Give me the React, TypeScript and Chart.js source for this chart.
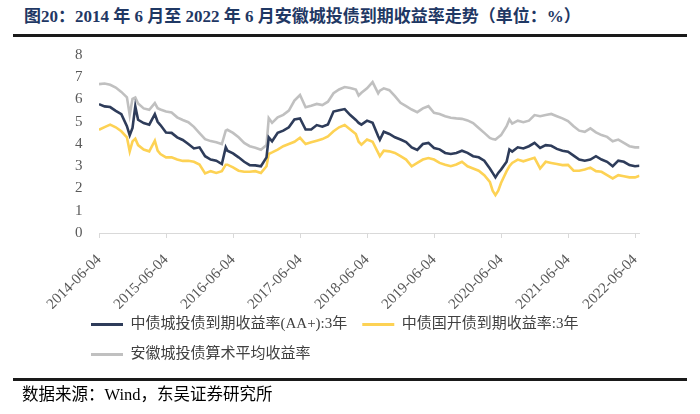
import React, { useEffect, useRef } from 'react';
import { Chart, registerables } from 'chart.js';

Chart.register(...registerables);

// months elapsed since 2014-06-04
const months = [
  0, 1, 2, 3, 4, 5, 5.5, 6, 6.5, 7, 8, 9, 10, 10.5, 11, 12, 13, 14, 15, 16, 17, 18, 19, 20, 21, 22, 22.7, 23,
  24, 25, 26, 27, 28, 29, 30, 30.4, 31, 32, 33, 34, 35, 36, 37, 38, 39, 40, 41, 42, 43, 44, 45, 46, 46.5, 47,
  48, 49, 50, 50.3, 51, 52, 53, 54, 55, 56, 57, 58, 59, 60, 61, 62, 63, 64, 65, 66, 67, 68, 69, 70, 70.5, 71,
  71.5, 72, 73, 73.5, 74, 75, 76, 77, 78, 79, 80, 81, 82, 83, 84, 85, 86, 87, 88, 89, 90, 91, 92, 93, 94, 95,
  96, 96.8,
];

// 中债城投债到期收益率(AA+):3年
const aaPlus3y = [
  5.79, 5.69, 5.66, 5.49, 5.34, 4.8, 4.39, 4.72, 5.69, 5.09, 4.94, 4.87, 5.34, 5.0, 4.85, 4.52, 4.5, 4.3, 4.18, 4.0, 3.8, 3.85, 3.45, 3.3, 3.25, 3.1, 3.85, 3.7,
  3.58, 3.4, 3.2, 3.05, 3.04, 3.0, 3.4, 4.3, 4.12, 4.5, 4.6, 4.75, 5.1, 5.15, 4.65, 4.65, 4.85, 4.78, 4.88, 5.46, 5.52, 5.57, 5.3, 5.08, 4.95, 4.87,
  5.05, 4.95, 4.35, 4.19, 4.55, 4.45, 4.3, 4.2, 4.09, 3.85, 3.73, 4.0, 4.05, 3.82, 3.76, 3.6, 3.55, 3.6, 3.7, 3.6, 3.45, 3.4, 3.25, 2.9, 2.7, 2.5,
  2.7, 2.85, 3.2, 3.75, 3.66, 3.85, 3.8, 3.9, 4.05, 3.82, 3.95, 3.92, 3.78, 3.7, 3.65, 3.48, 3.3, 3.25, 3.3, 3.45, 3.3, 3.2, 3.0, 3.25, 3.2, 3.05,
  3.0, 3.02,
];

// 中债国开债到期收益率:3年
const cdb3y = [
  4.64, 4.76, 4.87, 4.75, 4.57, 4.3, 3.67, 4.12, 4.24, 3.95, 3.75, 3.67, 4.15, 3.7, 3.55, 3.4, 3.4, 3.3, 3.24, 3.25, 3.2, 3.08, 2.68, 2.78, 2.7, 2.78, 3.07, 3.07,
  2.95, 2.8, 2.75, 2.75, 2.78, 2.7, 3.0, 3.55, 3.62, 3.75, 3.9, 4.0, 4.1, 4.28, 4.0, 4.08, 4.15, 4.22, 4.34, 4.57, 4.75, 4.85, 4.65, 4.45, 4.1, 3.97,
  4.2, 4.1, 3.6, 3.45, 3.7, 3.67, 3.6, 3.45, 3.3, 3.0, 3.15, 3.3, 3.37, 3.3, 3.15, 3.07, 3.0, 3.08, 3.2, 3.0, 2.9, 2.8, 2.6, 2.3, 1.9, 1.7,
  1.9, 2.25, 2.78, 3.0, 3.15, 3.3, 3.22, 3.3, 3.38, 2.9, 3.2, 3.15, 3.1, 3.05, 3.06, 2.8, 2.8, 2.85, 2.94, 2.78, 2.75, 2.6, 2.45, 2.6, 2.55, 2.5,
  2.5, 2.57,
];

// 安徽城投债算术平均收益率
const anhuiAvg = [
  6.69, 6.72, 6.66, 6.54, 6.34, 6.1, 5.3, 6.03, 6.09, 5.82, 5.6, 5.54, 5.84, 5.61, 5.55, 5.46, 5.42, 5.2, 5.08, 4.98, 4.77, 4.49, 4.22, 4.13, 4.08, 4.0, 4.6, 4.64,
  4.5, 4.3, 4.05, 3.9, 3.83, 3.74, 3.95, 5.16, 4.95, 5.2, 5.31, 5.5, 5.95, 6.2, 5.65, 5.72, 5.8, 5.75, 5.9, 6.28, 6.45, 6.56, 6.52, 6.45, 6.18, 6.3,
  6.5, 6.78, 6.28, 6.4, 6.5, 6.42, 6.15, 5.85, 5.7, 5.55, 5.43, 5.6, 5.7, 5.4, 5.35, 5.25, 5.18, 5.15, 5.13, 5.06, 4.94, 4.72, 4.5, 4.27, 4.22, 4.2,
  4.3, 4.4, 4.8, 5.1, 4.92, 5.05, 4.98, 5.05, 5.3, 5.25, 5.3, 5.35, 5.25, 5.15, 5.03, 4.8, 4.6, 4.55, 4.7, 4.52, 4.4, 4.32, 4.12, 4.2, 4.05, 3.9,
  3.85, 3.85,
];

const xTickLabels = [
  '2014-06-04', '2015-06-04', '2016-06-04', '2017-06-04', '2018-06-04',
  '2019-06-04', '2020-06-04', '2021-06-04', '2022-06-04',
];

const seriesNames = [
  '中债城投债到期收益率(AA+):3年',
  '中债国开债到期收益率:3年',
  '安徽城投债算术平均收益率',
];

const titleText = '图20：2014 年 6 月至 2022 年 6 月安徽城投债到期收益率走势（单位：%）';
const sourceText = '数据来源：Wind，东吴证券研究所';

const SERIF = "'Liberation Serif', 'Times New Roman', 'Noto Sans CJK SC', serif";

// nudges the legend block so it sits under the y labels and close to the axis labels like the reference
const legendNudge = {
  id: 'legendNudge',
  afterLayout(chart: any) {
    if (chart.legend) {
      chart.legend.left += 4;
      chart.legend.right += 4;
      chart.legend.top -= 7;
      chart.legend.bottom -= 7;
    }
  },
};

export default function App() {
  const canvasRef = useRef<HTMLCanvasElement>(null);

  useEffect(() => {
    if (!canvasRef.current) return;
    const pts = (vals: number[]) => vals.map((v, i) => ({ x: months[i], y: v }));
    const mk = (label: string, vals: number[], color: string) => ({
      label,
      data: pts(vals),
      borderColor: color,
      backgroundColor: color,
      borderWidth: 2.6,
      pointRadius: 0,
      tension: 0,
    });
    const chart = new Chart(canvasRef.current, {
      type: 'line',
      data: {
        datasets: [
          mk(seriesNames[0], aaPlus3y, '#2e3c5a'),
          mk(seriesNames[1], cdb3y, '#fdd254'),
          mk(seriesNames[2], anhuiAvg, '#c0c0c0'),
        ],
      },
      plugins: [legendNudge],
      options: {
        animation: false,
        responsive: false,
        maintainAspectRatio: false,
        layout: { padding: { left: 72, right: 60.5, top: 55, bottom: 35 } },
        plugins: {
          tooltip: { enabled: false },
          legend: {
            position: 'bottom',
            align: 'start',
            labels: {
              boxWidth: 32,
              boxHeight: 3,
              padding: 15,
              color: '#404040',
              font: { family: SERIF, size: 15 },
              generateLabels: (c: any) =>
                Chart.defaults.plugins.legend.labels
                  .generateLabels(c)
                  .map((l: any) => ({ ...l, lineWidth: 0 })),
            },
          },
        },
        scales: {
          x: {
            type: 'linear',
            min: 0,
            max: 96.8,
            afterBuildTicks: (axis: any) => {
              axis.ticks = xTickLabels.map((_, i) => ({ value: i * 12 }));
            },
            afterFit: (s: any) => {
              s.height = 76;
            },
            ticks: {
              autoSkip: false,
              minRotation: 45,
              maxRotation: 45,
              padding: 13,
              color: '#595959',
              font: { family: SERIF, size: 15 },
              callback: (v: any) => xTickLabels[Math.round(Number(v) / 12)] ?? '',
            },
            grid: {
              drawOnChartArea: false,
              drawTicks: true,
              tickLength: 5,
              color: '#d9d9d9',
            },
            border: { display: true, color: '#d9d9d9', width: 1 },
          },
          y: {
            min: 0,
            max: 8,
            afterFit: (s: any) => {
              s.width = 27;
            },
            ticks: {
              stepSize: 1,
              padding: 16.5,
              color: '#595959',
              font: { family: SERIF, size: 15 },
            },
            grid: { display: false, drawTicks: false },
            border: { display: false },
          },
        },
      },
    } as any);
    return () => chart.destroy();
  }, []);

  return (
    <div style={{ position: 'absolute', left: 0, top: 0, width: 700, height: 414, background: '#fff', overflow: 'hidden' }}>
      <div
        style={{
          position: 'absolute',
          left: 24,
          top: 6,
          fontFamily: SERIF,
          fontWeight: 'bold',
          fontSize: 17,
          lineHeight: '22px',
          color: '#1f3864',
          whiteSpace: 'nowrap',
        }}
      >
        {titleText}
      </div>
      <div style={{ position: 'absolute', left: 13, top: 34, width: 674, height: 3, background: '#1a1a1a' }} />
      <canvas
        ref={canvasRef}
        width={700}
        height={414}
        style={{ position: 'absolute', left: 0, top: 0, width: 700, height: 414, display: 'block' }}
      />
      <div style={{ position: 'absolute', left: 13, top: 378, width: 674, height: 3, background: '#1a1a1a' }} />
      <div
        style={{
          position: 'absolute',
          left: 22,
          top: 384,
          fontFamily: SERIF,
          fontSize: 16.5,
          lineHeight: '22px',
          color: '#000',
          whiteSpace: 'nowrap',
        }}
      >
        {sourceText}
      </div>
    </div>
  );
}
